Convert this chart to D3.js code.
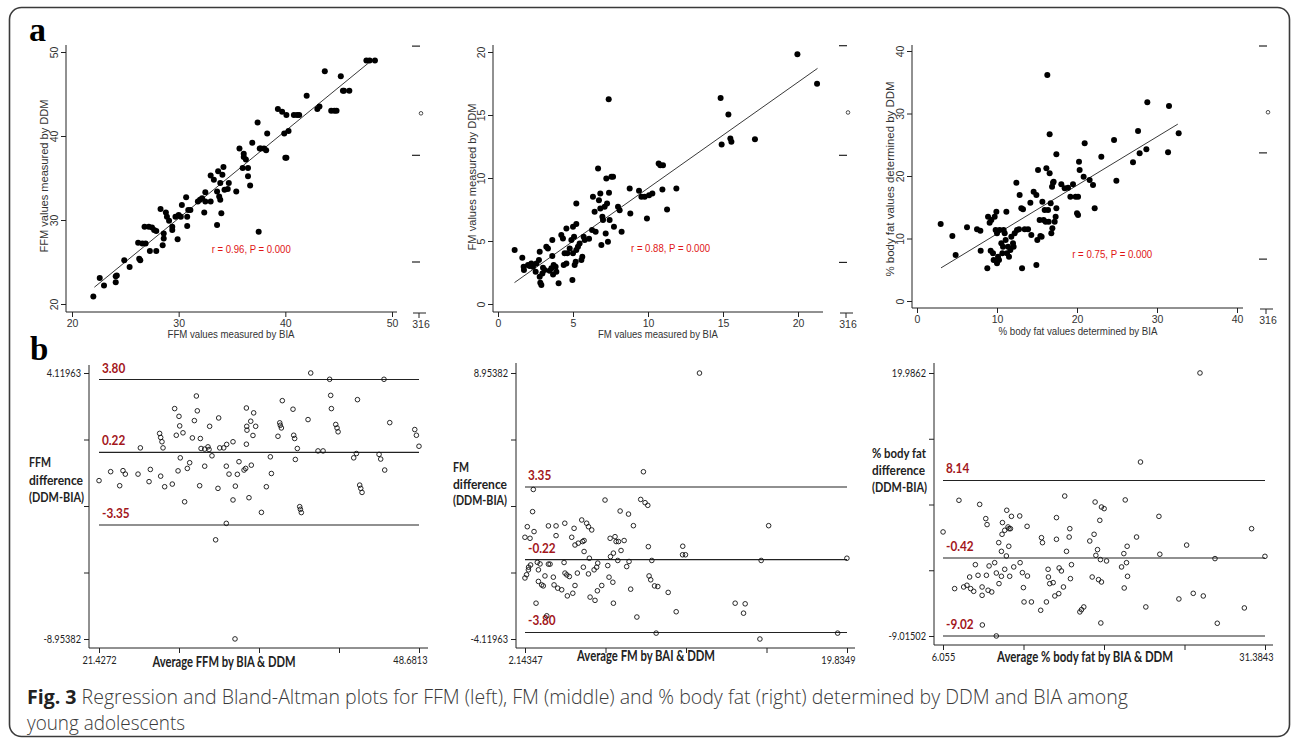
<!DOCTYPE html>
<html>
<head>
<meta charset="utf-8">
<script src="https://cdn.jsdelivr.net/npm/d3@7"></script>
<style>
  body { margin: 0; background: #fff; }
  svg { display: block; }
</style>
</head>
<body>
<svg id="fig" width="1292" height="743"></svg>
<script>
// ---------- data ----------
// a: regression plots, [BIA, DDM]
var ffmPoints = [[22.0,20.9],[22.6,23.1],[23.0,22.2],[24.1,23.3],[24.1,22.6],[24.2,23.4],[24.9,25.2],[25.4,24.4],[26.3,25.4],[26.4,25.2],
  [26.2,27.3],[26.6,27.2],[26.9,27.2],[26.8,29.2],[27.2,29.2],[27.5,29.1],[27.7,28.8],[27.9,28.7],[27.3,26.3],[27.9,26.3],
  [28.3,31.3],[28.5,27.0],[28.6,28.4],[28.6,27.8],[28.8,30.9],[28.9,30.4],[29.1,29.9],[29.4,28.8],[29.4,29.2],[29.9,27.7],
  [29.7,30.4],[30.0,30.6],[30.2,30.4],[30.3,31.8],[30.7,32.7],[30.8,30.4],[30.8,29.3],[30.9,31.2],[31.1,31.2],[31.8,32.2],
  [32.0,32.4],[32.2,32.6],[32.5,33.3],[32.5,32.2],[32.4,30.9],[33.0,32.2],[33.0,35.3],[33.3,34.8],[33.6,29.4],[33.6,33.4],
  [33.7,35.8],[33.8,32.8],[33.9,34.4],[33.9,32.4],[34.0,30.8],[34.1,35.4],[34.2,36.3],[34.3,33.6],[34.6,33.7],[34.7,34.4],
  [35.4,33.4],[35.7,38.5],[36.0,36.2],[36.1,37.5],[36.1,37.9],[36.3,37.2],[36.5,35.2],[36.5,36.2],[36.7,34.1],[36.9,39.2],
  [37.4,41.6],[37.6,38.5],[37.5,28.6],[37.7,38.5],[38.0,38.5],[38.2,38.3],[38.3,40.3],[39.3,43.2],[39.7,42.9],[40.1,42.5],
  [39.9,40.3],[40.0,37.4],[40.1,37.4],[40.3,40.6],[40.8,42.5],[41.1,42.5],[41.3,42.5],[42.0,44.8],[43.0,43.2],[43.2,43.5],
  [43.7,47.7],[44.3,43.0],[44.6,43.0],[44.8,43.0],[45.2,47.1],[45.4,45.4],[45.5,45.4],[46.0,45.4],[47.6,49.0],[47.9,49.0],[48.4,49.0]];

var fmPoints = [[1.11,4.28],[1.62,3.67],[1.71,2.96],[1.73,2.69],[2.00,3.09],[2.11,3.01],[2.22,3.22],[2.33,2.96],[2.51,2.56],[2.56,3.22],
  [2.73,3.49],[2.78,4.15],[2.78,2.17],[2.82,1.69],[2.89,1.51],[2.96,2.43],[3.00,2.88],[3.11,2.69],[3.22,4.54],[3.33,4.41],
  [3.44,2.64],[3.56,2.83],[3.62,5.07],[3.62,3.80],[3.67,2.35],[3.71,3.09],[3.84,2.96],[3.89,2.56],[4.04,1.64],[4.22,5.47],
  [4.33,5.20],[4.38,3.09],[4.44,4.02],[4.56,6.00],[4.56,3.22],[4.62,4.02],[4.78,4.41],[4.89,5.07],[4.96,1.90],[5.00,6.13],
  [5.00,4.02],[5.07,5.34],[5.11,3.09],[5.18,3.36],[5.22,7.98],[5.22,6.34],[5.22,4.28],[5.33,4.54],[5.44,4.81],[5.56,3.49],
  [5.62,3.75],[5.71,5.34],[5.78,5.07],[6.07,5.18],[6.27,5.87],[6.33,8.51],[6.44,7.32],[6.51,5.73],[6.67,10.75],[6.73,8.24],
  [6.82,8.77],[6.82,7.58],[6.89,4.68],[6.96,6.92],[7.00,6.66],[7.11,7.71],[7.18,5.60],[7.22,9.96],[7.27,7.98],[7.33,4.94],
  [7.38,16.25],[7.40,8.82],[7.44,6.66],[7.56,10.09],[7.67,10.09],[7.73,6.13],[8.00,7.71],[8.11,7.45],[8.24,5.73],[8.78,9.17],
  [8.82,7.19],[9.40,8.98],[9.56,8.51],[9.78,8.51],[9.93,6.79],[10.07,8.64],[10.29,8.77],[10.71,11.15],[10.82,11.02],[10.96,9.09],
  [11.00,11.02],[11.27,7.50],[11.89,9.17],[14.84,16.35],[14.91,12.66],[15.36,15.03],[15.49,13.13],[15.56,12.87],[17.13,13.08],
  [19.96,19.82],[21.27,17.49]];

var pbfPoints = [[2.96,12.32],[4.42,10.40],[4.83,7.36],[6.25,11.79],[7.50,11.47],[7.92,11.25],[7.96,8.05],[8.79,5.23],[8.88,13.49],[9.08,12.53],
  [9.21,8.05],[9.29,12.96],[9.50,7.63],[9.58,6.56],[9.71,13.49],[9.83,11.36],[9.92,14.29],[10.00,10.83],[10.00,6.03],[10.13,7.09],
  [10.25,6.56],[10.33,11.36],[10.54,9.23],[10.67,7.63],[10.75,8.69],[10.83,11.36],[10.96,10.83],[11.08,9.76],[11.17,14.29],[11.25,7.63],
  [11.38,8.69],[11.50,7.09],[11.67,8.16],[11.79,10.29],[12.00,9.23],[12.08,8.69],[12.21,10.83],[12.42,18.93],[12.50,11.36],[12.75,11.47],
  [12.83,16.96],[13.04,14.83],[13.13,5.23],[13.25,14.67],[13.46,11.47],[13.88,11.47],[14.17,15.73],[14.29,10.56],[14.58,17.49],[14.92,16.96],
  [14.92,5.76],[15.04,9.76],[15.13,20.96],[15.33,12.96],[15.42,10.40],[15.58,10.29],[15.67,15.89],[15.83,12.96],[15.96,14.56],[16.08,12.69],
  [16.17,21.23],[16.29,36.16],[16.38,14.56],[16.46,12.69],[16.58,20.43],[16.58,26.67],[16.71,15.63],[16.79,10.83],[16.88,18.29],[16.92,11.63],
  [17.00,18.93],[17.08,19.09],[17.21,12.69],[17.33,13.49],[17.42,14.83],[17.42,23.47],[18.04,18.67],[18.46,18.03],[18.88,18.13],[19.17,16.69],
  [19.50,18.67],[19.83,16.69],[20.00,14.03],[20.13,16.69],[20.13,13.76],[20.25,22.29],[20.33,20.96],[20.83,19.89],[20.96,25.23],[21.58,19.36],
  [22.00,18.56],[22.21,14.83],[23.04,23.09],[24.63,25.76],[24.92,19.25],[27.00,22.19],[27.63,27.20],[27.83,23.63],[28.67,24.27],[28.79,31.79],
  [31.38,23.79],[31.50,31.20],[32.71,26.83]];

// fitted lines (end points) and r labels
var ffmFit = [[22.1, 22.0], [47.9, 48.8]];
var fmFit = [[1.1, 1.7], [21.3, 18.7]];
var pbfFit = [[3.0, 5.3], [32.6, 28.3]];
var rLabels = ["r = 0.96, P = 0.000", "r = 0.88, P = 0.000", "r = 0.75, P = 0.000"];
var rLabelAt = [[33.1, 26.1], [8.87, 4.1], [19.4, 6.9]];

// stray margin marks printed at the right of each regression plot
var ffmSideDashes = [50.7, 37.7, 25.0], ffmSideDot = 42.7;
var fmSideDashes = [20.5, 11.8, 3.3], fmSideDot = 15.2;
var pbfSideDashes = [40.8, 23.7, 6.7], pbfSideDot = 30.2;
var sideLabel = "316";

// b: Bland-Altman plots, [mean, difference]
var ffmBA = [[21.43,-1.17],[22.42,-0.73],[23.19,-1.42],[23.47,-0.68],[23.67,-0.85],[24.75,-0.85],[24.95,0.44],[25.69,-1.22],[25.80,-0.62],[26.59,1.15],
  [26.68,0.95],[26.79,0.74],[26.88,0.44],[26.68,-0.95],[27.02,-1.47],[27.67,-1.34],[27.87,2.37],[28.01,1.06],[28.16,-0.69],[28.24,1.99],
  [28.30,1.52],[28.35,-0.05],[28.58,1.18],[28.72,-2.21],[28.95,-0.57],[29.15,-0.29],[29.38,0.93],[29.55,1.78],[29.72,2.99],[29.80,2.26],
  [30.00,-1.42],[30.06,0.90],[30.12,0.41],[30.43,-0.46],[30.43,0.38],[30.71,0.49],[30.80,0.36],[30.85,1.50],[31.05,0.05],[31.36,-4.08],
  [31.56,-1.55],[31.62,1.91],[31.71,0.44],[32.05,0.44],[32.27,-3.27],[32.27,-0.46],[32.30,0.61],[32.50,-0.85],[32.84,0.74],[32.84,-2.12],
  [33.01,-8.95],[33.04,-1.44],[33.21,-0.86],[33.35,-0.24],[33.78,-0.65],[33.92,-0.57],[33.98,2.40],[34.03,1.31],[34.01,1.50],[33.98,0.62],
  [34.20,-2.01],[34.35,1.75],[34.40,-0.41],[34.54,1.05],[34.60,2.16],[34.77,1.50],[35.26,-2.73],[35.68,-1.47],[36.02,0.00],[36.11,-0.82],
  [36.67,1.01],[36.82,1.67],[36.87,1.55],[36.96,1.42],[37.04,2.76],[37.95,2.34],[38.01,1.06],[38.09,0.90],[38.15,-0.13],[38.32,0.41],
  [38.52,-2.45],[38.58,-2.58],[38.66,-2.74],[39.23,1.83],[39.46,4.12],[40.08,0.29],[40.51,0.29],[41.07,3.81],[41.16,3.02],[41.22,2.37],
  [41.59,1.59],[41.70,1.42],[41.79,1.23],[43.12,-0.05],[43.35,0.16],[43.44,2.81],[43.63,-1.39],[43.72,-1.55],[43.83,-1.75],[45.28,0.12],
  [45.42,-0.11],[45.70,3.81],[45.76,-0.65],[46.19,1.68],[48.32,1.34],[48.46,1.06],[48.68,0.52]];

var fmBA = [[2.14,0.88],[2.14,-1.12],[2.23,-0.96],[2.27,1.40],[2.33,-0.72],[2.34,-0.59],[2.42,0.83],[2.45,-0.48],[2.56,2.14],[2.60,3.23],
  [2.64,1.16],[2.75,-2.36],[2.82,-0.35],[2.88,-0.72],[2.88,-1.29],[2.97,-0.43],[3.06,-1.46],[3.15,-1.51],[3.24,-1.02],[3.34,-2.98],
  [3.43,1.44],[3.43,-0.44],[3.52,-0.44],[3.70,-1.08],[3.74,-1.46],[3.85,0.96],[3.85,1.44],[3.94,-1.62],[4.16,-1.70],[4.29,-0.36],
  [4.33,1.57],[4.34,-0.88],[4.44,-0.97],[4.47,-2.00],[4.58,-1.05],[4.71,0.88],[4.77,-1.87],[4.84,1.32],[4.89,0.50],[4.89,-1.49],
  [5.02,-0.88],[5.07,0.59],[5.26,1.73],[5.31,0.67],[5.35,-0.59],[5.39,0.72],[5.39,0.18],[5.53,1.57],[5.63,1.40],[5.63,-0.92],
  [5.68,-0.15],[5.72,-2.06],[5.81,1.24],[5.94,-0.72],[5.99,-2.22],[6.08,-0.59],[6.14,-0.39],[6.12,-1.75],[6.36,-1.49],[6.54,2.71],
  [6.69,-0.51],[6.76,-1.08],[6.82,0.83],[6.84,-0.07],[6.97,-1.33],[7.00,-2.36],[7.00,0.10],[7.09,0.91],[7.15,0.67],[7.28,0.67],
  [7.24,-0.26],[7.37,2.17],[7.42,0.23],[7.59,0.72],[7.73,-0.56],[7.83,2.02],[7.86,-0.31],[7.95,-1.67],[8.10,1.45],[8.29,-3.04],
  [8.50,2.74],[8.65,4.10],[8.74,2.58],[8.89,2.45],[8.92,0.42],[8.96,-1.02],[9.05,-1.21],[9.11,-0.26],[9.26,-1.51],[9.35,-3.83],
  [9.44,-1.54],[10.01,-1.83],[10.45,-2.78],[10.80,0.02],[10.81,0.44],[10.96,0.02],[11.73,8.95],[13.69,-2.36],[14.15,-2.85],[14.24,-2.39],
  [15.05,-4.12],[15.12,-0.26],[15.53,1.45],[19.32,-3.83],[19.83,-0.15]];

var pbfBA = [[6.06,2.46],[6.97,-3.79],[7.31,5.95],[7.68,-3.61],[7.94,-3.42],[8.15,-2.51],[8.23,-3.79],[8.47,-4.09],[8.60,-1.15],[8.81,-2.32],
  [8.94,5.50],[9.13,-3.61],[9.13,-4.53],[9.15,-7.80],[9.42,3.93],[9.47,-2.32],[9.52,3.27],[9.60,-3.97],[9.68,-1.29],[9.89,-4.16],
  [10.12,-0.93],[10.25,-9.01],[10.25,-2.07],[10.44,1.28],[10.46,-3.24],[10.65,0.32],[10.65,-2.43],[10.70,2.20],[10.73,3.49],[10.91,2.64],
  [10.91,-1.66],[11.04,-0.19],[11.07,4.85],[11.17,3.01],[11.23,0.88],[11.25,2.82],[11.30,-2.43],[11.36,2.82],[11.44,4.18],[11.62,-1.40],
  [12.09,4.22],[12.12,-0.93],[12.30,-2.03],[12.38,-3.68],[12.43,-5.26],[12.67,3.08],[12.70,-2.40],[13.01,-5.26],[13.74,-6.18],[13.80,1.83],
  [13.88,1.28],[14.19,-5.26],[14.32,-1.66],[14.35,-2.51],[14.45,-3.24],[14.72,-3.13],[14.85,-4.60],[14.98,4.04],[14.98,1.65],[15.16,-4.34],
  [15.19,-1.51],[15.37,-1.84],[15.53,-3.61],[15.63,6.42],[15.77,0.32],[15.98,1.90],[16.03,2.82],[16.08,-2.69],[16.16,-1.15],[16.82,-6.36],
  [16.95,-6.11],[17.13,-5.81],[17.60,1.46],[17.94,2.20],[17.79,-2.51],[18.02,5.76],[18.08,-0.12],[18.21,0.51],[18.29,-2.80],[18.39,3.74],
  [18.44,-0.59],[18.52,5.21],[18.52,-3.06],[18.73,5.03],[18.47,-7.58],[18.92,-0.74],[20.10,-1.40],[20.28,0.07],[20.31,-3.72],[20.39,5.99],
  [20.49,-0.93],[20.54,0.88],[20.57,-2.43],[21.28,1.90],[21.59,10.17],[22.01,-5.81],[23.04,4.18],[23.11,0.00],[24.61,-4.93],[25.22,1.01],
  [25.74,-4.31],[26.27,19.99],[26.53,-4.60],[27.45,-0.48],[27.63,-7.61],[29.76,-5.92],[30.33,2.82],[31.38,-0.23]];

// upper limit, mean difference, lower limit
var ffmLimits = [3.80, 0.22, -3.35];
var fmLimits = [3.35, -0.22, -3.80];
var pbfLimits = [8.14, -0.42, -9.02];

// axis ranges printed on the Bland-Altman plots
var ffmMeanRange = [21.4272, 48.6813], ffmDiffRange = [-8.95382, 4.11963];
var fmMeanRange = [2.14347, 19.8349], fmDiffRange = [-4.11963, 8.95382];
var pbfMeanRange = [6.055, 31.3843], pbfDiffRange = [-9.01502, 19.9862];

var captionBold = "Fig. 3";
var captionLine1 = " Regression and Bland-Altman plots for FFM (left), FM (middle) and % body fat (right) determined by DDM and BIA among";
var captionLine2 = "young adolescents";

// ---------- drawing ----------
var svg = d3.select("#fig");
var arial = "'Liberation Sans', Arial, sans-serif";
var calib = "Lato, 'Open Sans', sans-serif";
var darkRed = "#a3161b";

// squash text to a given width / by a factor (the figure uses narrow fonts)
function fitTo(sel, w) {
  sel.attr("textLength", w).attr("lengthAdjust", "spacingAndGlyphs");
}
function squeeze(sel, k) {
  sel.each(function () {
    var n = this.getComputedTextLength();
    if (n > 0) d3.select(this).attr("textLength", n * k).attr("lengthAdjust", "spacingAndGlyphs");
  });
}

// frame
svg.append("rect")
  .attr("x", 9.5).attr("y", 7.5)
  .attr("width", 1280).attr("height", 729)
  .attr("rx", 12).attr("ry", 12)
  .attr("fill", "none").attr("stroke", "#3a3a3a").attr("stroke-width", 1.6);

svg.append("text").attr("x", 29).attr("y", 41)
  .style("font-family", "'Liberation Serif', serif").style("font-weight", "bold").style("font-size", "34px")
  .text("a");
svg.append("text").attr("x", 30).attr("y", 360)
  .style("font-family", "'Liberation Serif', serif").style("font-weight", "bold").style("font-size", "33px")
  .text("b");

var topPanels = [
  { pts: ffmPoints, fit: ffmFit, r: rLabels[0], rAt: rLabelAt[0], xd: [20, 50], yd: [20, 50],
    xt: [20, 30, 40, 50], yt: [20, 30, 40, 50], dashes: ffmSideDashes, dot: ffmSideDot,
    xTitle: "FFM values measured by BIA", yTitle: "FFM values measured by DDM",
    xr: [72, 392], yr: [304, 52], ax: 66, ay: 312, axEnd: 397, ayTop: 45, side: 420,
    xTitleAt: [231, 338], xTitleW: 127, yTitleAt: [48, 176], yTitleW: 153, rW: 79 },
  { pts: fmPoints, fit: fmFit, r: rLabels[1], rAt: rLabelAt[1], xd: [0, 20], yd: [0, 20],
    xt: [0, 5, 10, 15, 20], yt: [0, 5, 10, 15, 20], dashes: fmSideDashes, dot: fmSideDot,
    xTitle: "FM values measured by BIA", yTitle: "FM values measured by DDM",
    xr: [498, 798], yr: [304, 52], ax: 493, ay: 312, axEnd: 823, ayTop: 45, side: 847,
    xTitleAt: [658, 338], xTitleW: 120, yTitleAt: [476, 177], yTitleW: 147, rW: 79 },
  { pts: pbfPoints, fit: pbfFit, r: rLabels[2], rAt: rLabelAt[2], xd: [0, 40], yd: [0, 40],
    xt: [0, 10, 20, 30, 40], yt: [0, 10, 20, 30, 40], dashes: pbfSideDashes, dot: pbfSideDot,
    xTitle: "% body fat values determined by BIA", yTitle: "% body fat values determined by DDM",
    xr: [917, 1237], yr: [301, 51], ax: 912, ay: 308, axEnd: 1243, ayTop: 45, side: 1267,
    xTitleAt: [1078, 335], xTitleW: 159, yTitleAt: [894, 179], yTitleW: 195, rW: 80 }
];

topPanels.forEach(function (p) {
  var xs = d3.scaleLinear().domain(p.xd).range(p.xr);
  var ys = d3.scaleLinear().domain(p.yd).range(p.yr);
  var g = svg.append("g");

  // axis lines
  g.append("line").attr("x1", p.ax).attr("x2", p.ax).attr("y1", p.ayTop).attr("y2", p.ay)
    .attr("stroke", "#222").attr("stroke-width", 1);
  g.append("line").attr("x1", p.ax).attr("x2", p.axEnd).attr("y1", p.ay).attr("y2", p.ay)
    .attr("stroke", "#222").attr("stroke-width", 1);

  var yAxis = g.append("g").attr("transform", "translate(" + p.ax + ",0)")
    .call(d3.axisLeft(ys).tickValues(p.yt).tickSize(5).tickFormat(d3.format("d")));
  yAxis.select(".domain").remove();
  yAxis.selectAll("text")
    .attr("x", null).attr("dy", null)
    .attr("transform", "translate(-8,0) rotate(-90)")
    .attr("text-anchor", "middle");

  var xAxis = g.append("g").attr("transform", "translate(0," + p.ay + ")")
    .call(d3.axisBottom(xs).tickValues(p.xt).tickSize(5).tickFormat(d3.format("d")));
  xAxis.select(".domain").remove();

  g.selectAll(".tick text").style("font-family", arial).style("font-size", "10.5px").attr("fill", "#333");
  g.selectAll(".tick line").attr("stroke", "#222");

  // titles
  g.append("text")
    .attr("transform", "translate(" + p.yTitleAt[0] + "," + p.yTitleAt[1] + ") rotate(-90)")
    .attr("text-anchor", "middle")
    .style("font-family", arial).style("font-size", "11px").attr("fill", "#333")
    .text(p.yTitle)
    .call(fitTo, p.yTitleW);
  g.append("text")
    .attr("x", p.xTitleAt[0]).attr("y", p.xTitleAt[1])
    .attr("text-anchor", "middle")
    .style("font-family", arial).style("font-size", "11px").attr("fill", "#333")
    .text(p.xTitle)
    .call(fitTo, p.xTitleW);

  // fit line
  g.append("line")
    .attr("x1", xs(p.fit[0][0])).attr("y1", ys(p.fit[0][1]))
    .attr("x2", xs(p.fit[1][0])).attr("y2", ys(p.fit[1][1]))
    .attr("stroke", "#222").attr("stroke-width", 0.9);

  // points
  g.append("g").selectAll("circle")
    .data(p.pts)
    .enter()
    .append("circle")
    .attr("cx", function (d) { return xs(d[0]); })
    .attr("cy", function (d) { return ys(d[1]); })
    .attr("r", 3)
    .attr("fill", "#000");

  g.append("text")
    .attr("x", xs(p.rAt[0])).attr("y", ys(p.rAt[1]))
    .style("font-family", arial).style("font-size", "11px").attr("fill", "#e01414")
    .text(p.r)
    .call(fitTo, p.rW);

  // margin marks
  g.selectAll(".dash")
    .data(p.dashes)
    .enter()
    .append("line")
    .attr("x1", p.side - 8).attr("x2", p.side)
    .attr("y1", function (d) { return ys(d); }).attr("y2", function (d) { return ys(d); })
    .attr("stroke", "#222").attr("stroke-width", 1.2);
  g.append("circle").attr("cx", p.side + 1).attr("cy", ys(p.dot)).attr("r", 1.8)
    .attr("fill", "none").attr("stroke", "#222").attr("stroke-width", 0.8);
  g.append("line").attr("x1", p.side - 7).attr("x2", p.side + 6).attr("y1", p.ay + 1).attr("y2", p.ay + 1)
    .attr("stroke", "#222");
  g.append("line").attr("x1", p.side - 1).attr("x2", p.side - 1).attr("y1", p.ay + 1).attr("y2", p.ay + 6)
    .attr("stroke", "#222");
  g.append("text").attr("x", p.side + 1).attr("y", p.ay + 16).attr("text-anchor", "middle")
    .style("font-family", arial).style("font-size", "10.5px").attr("fill", "#333")
    .text(sideLabel);
});

var bottomPanels = [
  { pts: ffmBA, lim: ffmLimits, xd: ffmMeanRange, yd: ffmDiffRange,
    xTitle: "Average FFM by BIA & DDM", yTitle: ["FFM", "difference", "(DDM-BIA)"],
    xr: [99, 419], yr: [639, 373], ax: 89, ay: 648, axEnd: 428, ayTop: 365,
    yTitleX: 29, yTitleY: [467, 485, 502], yTitleW: [22, 54, 55], xTitleAt: [224, 667], xTitleW: 143 },
  { pts: fmBA, lim: fmLimits, xd: fmMeanRange, yd: fmDiffRange,
    xTitle: "Average FM by BAI & DDM", yTitle: ["FM", "difference", "(DDM-BIA)"],
    xr: [525, 847], yr: [639, 373], ax: 516, ay: 648, axEnd: 855, ayTop: 363,
    yTitleX: 453, yTitleY: [472, 489, 505], yTitleW: [16, 54, 54], xTitleAt: [646, 661], xTitleW: 138 },
  { pts: pbfBA, lim: pbfLimits, xd: pbfMeanRange, yd: pbfDiffRange,
    xTitle: "Average % body fat by BIA & DDM", yTitle: ["% body fat", "difference", "(DDM-BIA)"],
    xr: [943, 1265], yr: [636, 373], ax: 934, ay: 645, axEnd: 1273, ayTop: 363,
    yTitleX: 872, yTitleY: [458, 475, 492], yTitleW: [54, 53, 55], xTitleAt: [1085, 662], xTitleW: 176 }
];

function fiveTicks(r) {
  return d3.range(5).map(function (i) {
    return i == 0 ? r[0] : i == 4 ? r[1] : r[0] + i * (r[1] - r[0]) / 4;
  });
}
function endLabel(r) {
  return function (d) { return (d == r[0] || d == r[1]) ? String(d) : ""; };
}

bottomPanels.forEach(function (p) {
  var xs = d3.scaleLinear().domain(p.xd).range(p.xr);
  var ys = d3.scaleLinear().domain(p.yd).range(p.yr);
  var g = svg.append("g");

  g.append("line").attr("x1", p.ax).attr("x2", p.ax).attr("y1", p.ayTop).attr("y2", p.ay)
    .attr("stroke", "#222").attr("stroke-width", 1);
  g.append("line").attr("x1", p.ax).attr("x2", p.axEnd).attr("y1", p.ay).attr("y2", p.ay)
    .attr("stroke", "#222").attr("stroke-width", 1);

  var yAxis = g.append("g").attr("transform", "translate(" + p.ax + ",0)")
    .call(d3.axisLeft(ys).tickValues(fiveTicks(p.yd)).tickSize(5).tickFormat(endLabel(p.yd)));
  yAxis.select(".domain").remove();
  var xAxis = g.append("g").attr("transform", "translate(0," + p.ay + ")")
    .call(d3.axisBottom(xs).tickValues(fiveTicks(p.xd)).tickSize(5).tickFormat(endLabel(p.xd)));
  xAxis.select(".domain").remove();
  // last x label sits flush right, as printed
  xAxis.selectAll(".tick text").filter(function (d) { return d == p.xd[1]; })
    .attr("text-anchor", "end").attr("x", 8);
  g.selectAll(".tick text").style("font-family", calib).style("font-size", "11.5px").attr("fill", "#222")
    .call(squeeze, 0.8);
  g.selectAll(".tick line").attr("stroke", "#222");

  // limits of agreement
  g.selectAll(".lim")
    .data(p.lim)
    .enter()
    .append("line")
    .attr("x1", p.xr[0]).attr("x2", p.xr[1])
    .attr("y1", function (d) { return ys(d); }).attr("y2", function (d) { return ys(d); })
    .attr("stroke", "#222").attr("stroke-width", 1.1);
  g.selectAll(".limtxt")
    .data(p.lim)
    .enter()
    .append("text")
    .attr("x", p.xr[0] + 3)
    .attr("y", function (d) { return ys(d) - 7; })
    .style("font-family", calib).style("font-weight", "bold").style("font-size", "14px")
    .attr("fill", darkRed)
    .text(function (d) { return d.toFixed(2); })
    .call(squeeze, 0.84);

  g.append("g").selectAll("circle")
    .data(p.pts)
    .enter()
    .append("circle")
    .attr("cx", function (d) { return xs(d[0]); })
    .attr("cy", function (d) { return ys(d[1]); })
    .attr("r", 2.3)
    .attr("fill", "none").attr("stroke", "#111").attr("stroke-width", 0.9);

  g.selectAll(".ytitle")
    .data(p.yTitle)
    .enter()
    .append("text")
    .attr("x", p.yTitleX)
    .attr("y", function (d, i) { return p.yTitleY[i]; })
    .attr("textLength", function (d, i) { return p.yTitleW[i]; })
    .attr("lengthAdjust", "spacingAndGlyphs")
    .style("font-family", calib).style("font-weight", "bold").style("font-size", "14px")
    .attr("fill", "#222")
    .text(function (d) { return d; });
  g.append("text")
    .attr("x", p.xTitleAt[0]).attr("y", p.xTitleAt[1]).attr("text-anchor", "middle")
    .style("font-family", calib).style("font-weight", "bold").style("font-size", "14.5px")
    .attr("fill", "#222")
    .text(p.xTitle)
    .call(fitTo, p.xTitleW);
});

// caption
var cap = svg.append("text").attr("x", 27).attr("y", 704)
  .style("font-family", "'Open Sans', sans-serif").style("font-size", "19.5px").attr("fill", "#3a3a3a");
cap.append("tspan").style("font-weight", "bold").attr("fill", "#222").text(captionBold);
cap.append("tspan").style("font-weight", "300").text(captionLine1);
cap.call(fitTo, 1101);
svg.append("text").attr("x", 27).attr("y", 730)
  .style("font-family", "'Open Sans', sans-serif").style("font-size", "19.5px").style("font-weight", "300")
  .attr("fill", "#3a3a3a")
  .text(captionLine2)
  .call(fitTo, 158);
</script>
</body>
</html>
